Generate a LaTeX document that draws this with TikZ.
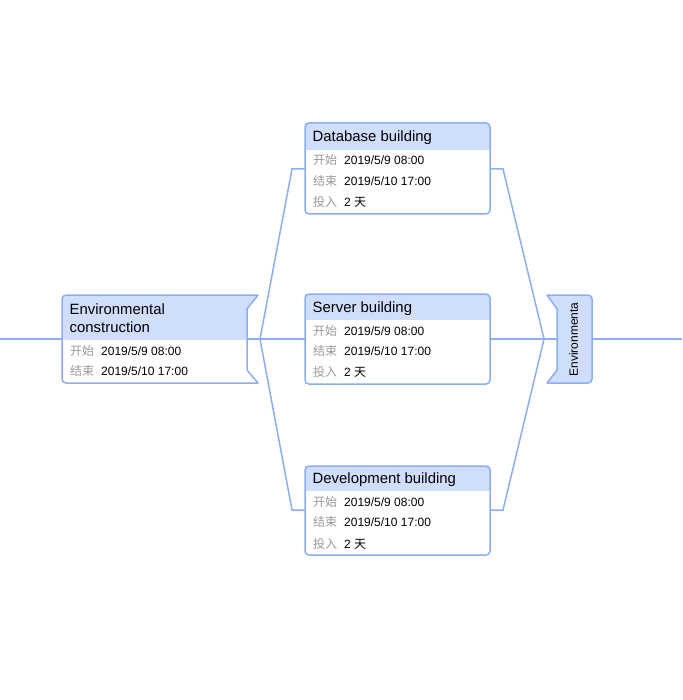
\documentclass[tikz,border=0pt]{standalone}
\usepackage{fontspec}
\setmainfont{Liberation Sans}
\newfontfamily\cjk{Noto Sans CJK SC}
\definecolor{edge}{HTML}{8AAEF7}
\definecolor{headfill}{HTML}{CFDEFC}
\definecolor{lbl}{HTML}{999999}
\tikzset{
  conn/.style={draw=edge, line width=1.5pt},
  boxline/.style={draw=edge, line width=1.5pt},
  anchorbox/.style={rectangle, inner sep=0pt, outer sep=0pt},
  titletext/.style={anchor=west, inner sep=0pt, font=\fontsize{14.9}{17.5}\selectfont, align=left},
  labeltext/.style={anchor=west, inner sep=0pt, text=lbl, font=\cjk\fontsize{12}{14}\selectfont},
  valuetext/.style={anchor=west, inner sep=0pt, font=\fontsize{12}{14}\selectfont},
}
\newcommand{\taskbox}[6]{% name, top, headbottom, bottom, title, hasinput
  \fill[headfill, rounded corners=4pt] (305,#2) -- (490,#2) -- (490,#3) [sharp corners]-- (305,#3) -- cycle;
  \fill[white] (305,#3) rectangle (490,#4);
  \fill[headfill] (305,#3-4) rectangle (490,#3);
  \draw[boxline, rounded corners=4pt] (305,#2) rectangle (490,#4);
  \node[anchorbox, minimum width=185pt, minimum height=#4pt-#2pt] (#1) at (397.5,{(#2+#4)/2}) {};
  \node[titletext] (#1-title) at (312.5,{(#2+#3)/2+1.5}) {#5};
}
\begin{document}
\begin{tikzpicture}[x=1pt,y=-1pt]
\useasboundingbox (0,0) rectangle (682,700);
% coordinates
\coordinate (start) at (0,339);
\coordinate (fork) at (260,339);
\coordinate (join) at (544,339);
\coordinate (end) at (682,339);
\coordinate (forkup) at (292,169);
\coordinate (forkdown) at (292,510);
\coordinate (joinup) at (503,169);
\coordinate (joindown) at (503,510);

% ---- connectors
\draw[conn] (start) -- (62,339);
\draw[conn] (247,339) -- (fork);
\draw[conn] (fork) -- (forkup) -- (305,169);
\draw[conn] (fork) -- (305,339);
\draw[conn] (fork) -- (forkdown) -- (305,510);
\draw[conn] (490,169) -- (joinup) -- (join);
\draw[conn] (490,339) -- (join);
\draw[conn] (490,510) -- (joindown) -- (join);
\draw[conn] (join) -- (557,339);
\draw[conn] (592,339) -- (end);

% ---- left summary node
\fill[white] (258,383) [rounded corners=4pt]-- (62,383) -- (62,295) [sharp corners]-- (258,295) -- (247,309) -- (247,370) -- cycle;
\fill[headfill] (247,340) [rounded corners=4pt]-- (62,340) -- (62,295) [sharp corners]-- (258,295) -- (247,309) -- cycle;
\draw[boxline, line join=round] (258,383) [rounded corners=4pt]-- (62,383) -- (62,295) [sharp corners]-- (258,295) -- (247,309) -- (247,370) -- cycle;
\node[anchorbox, minimum width=196pt, minimum height=88pt] (env) at (160,339) {};
\node[titletext] (env-title) at (69.5,318) {Environmental\\construction};
\node[labeltext] (env-l1) at (70,351) {开始};
\node[valuetext] (env-v1) at (101,351) {2019/5/9 08:00};
\node[labeltext] (env-l2) at (70,371) {结束};
\node[valuetext] (env-v2) at (101,371) {2019/5/10 17:00};

% ---- task boxes
\taskbox{db}{123}{150}{214}{Database building}{1}
\node[labeltext] at (313,160) {开始};
\node[valuetext] at (344,160) {2019/5/9 08:00};
\node[labeltext] at (313,181) {结束};
\node[valuetext] at (344,181) {2019/5/10 17:00};
\node[labeltext] at (313,202) {投入};
\node[valuetext] at (344,202) {2 {\cjk 天}};

\taskbox{srv}{294}{320}{384}{Server building}{1}
\node[labeltext] at (313,331) {开始};
\node[valuetext] at (344,331) {2019/5/9 08:00};
\node[labeltext] at (313,351) {结束};
\node[valuetext] at (344,351) {2019/5/10 17:00};
\node[labeltext] at (313,372) {投入};
\node[valuetext] at (344,372) {2 {\cjk 天}};

\taskbox{dev}{466}{491}{555}{Development building}{1}
\node[labeltext] at (313,502) {开始};
\node[valuetext] at (344,502) {2019/5/9 08:00};
\node[labeltext] at (313,522) {结束};
\node[valuetext] at (344,522) {2019/5/10 17:00};
\node[labeltext] at (313,544) {投入};
\node[valuetext] at (344,544) {2 {\cjk 天}};

% ---- right end node
\filldraw[fill=headfill, boxline, line join=round] (547,295) [rounded corners=4pt]-- (592,295) -- (592,383) [sharp corners]-- (547,383) -- (557,370) -- (557,309) -- cycle;
\node[anchorbox, minimum width=45pt, minimum height=88pt] (envend) at (572,339) {};
\node[rotate=90, inner sep=0pt, font=\fontsize{12}{14}\selectfont] (envend-title) at (573.5,339.5) {Environmenta};
\end{tikzpicture}
\end{document}
